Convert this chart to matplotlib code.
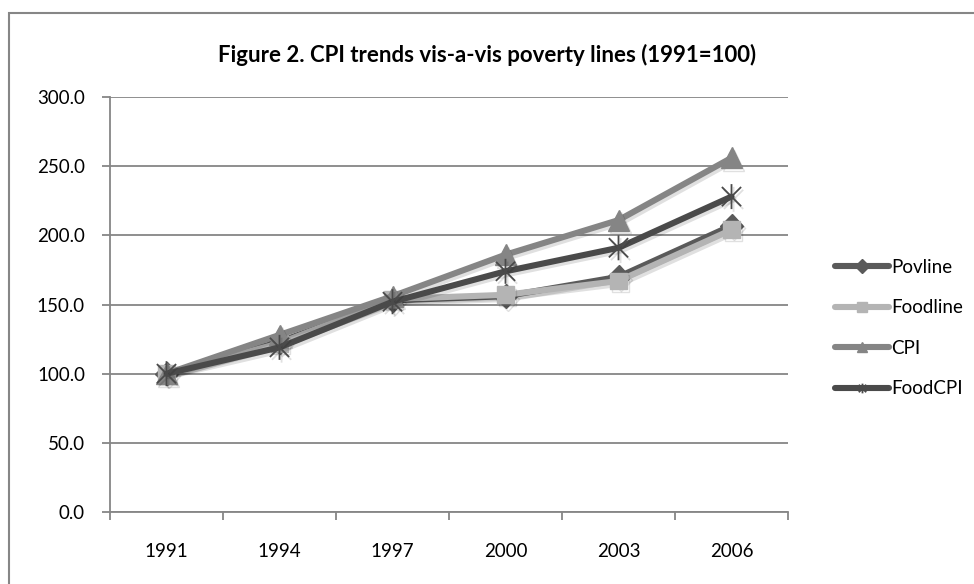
import matplotlib
matplotlib.use('Agg')
import matplotlib.pyplot as plt
import matplotlib.patheffects as pe
from matplotlib.path import Path
from matplotlib.patches import Rectangle

# data
years = ['1991', '1994', '1997', '2000', '2003', '2006']
povline = [100.0, 123.0, 153.0, 156.0, 170.0, 207.0]
foodline = [100.0, 122.0, 154.0, 157.0, 167.0, 204.0]
cpi = [100.0, 128.0, 156.0, 186.0, 211.0, 256.0]
foodcpi = [100.0, 119.0, 152.0, 174.0, 191.0, 228.0]
yticks = [0, 50, 100, 150, 200, 250, 300]

plt.rcParams['font.family'] = ['Lato', 'DejaVu Sans']

# Excel style star marker: x plus a vertical bar
star = Path([(-1, -1), (1, 1), (-1, 1), (1, -1), (0, -1.3), (0, 1.3)],
            [Path.MOVETO, Path.LINETO, Path.MOVETO, Path.LINETO, Path.MOVETO, Path.LINETO])

fig = plt.figure(figsize=(9.74, 5.84), dpi=100)
fig.patches.append(Rectangle((9 / 974, -0.1), 1.2, (584 - 13) / 584 + 0.1,
                             transform=fig.transFigure, fill=False,
                             edgecolor='#868686', linewidth=1.5))
ax = fig.add_axes([110 / 974, 72 / 584, 678 / 974, 415 / 584])

x = list(range(len(years)))
shadow = [pe.SimpleLineShadow(offset=(1.5, -2), shadow_color='#000000', alpha=0.12), pe.Normal()]

series = [
    ('Povline', povline, '#5a5a5a', 'D', 12, {}),
    ('Foodline', foodline, '#b4b4b4', 's', 12, {}),
    ('CPI', cpi, '#858585', '^', 15, {}),
    ('FoodCPI', foodcpi, '#4a4a4a', star, 18, {'markerfacecolor': 'none', 'markeredgewidth': 1.3}),
]
for name, vals, col, mk, ms, extra in series:
    ax.plot(x, vals, color=col, linewidth=4.4, marker=mk, markersize=ms,
            markerfacecolor=extra.get('markerfacecolor', col), markeredgecolor=col,
            markeredgewidth=extra.get('markeredgewidth', 1), label=name,
            solid_capstyle='round', path_effects=shadow)

ax.set_xlim(-0.5, len(years) - 0.5)
ax.set_ylim(0, 300)
ax.set_yticks(yticks)
ax.set_yticklabels([f'{v:.1f}' for v in yticks])
ax.set_xticks(x)
ax.set_xticklabels(years)
ax.set_xticks([i - 0.5 for i in range(len(years) + 1)], minor=True)
ax.tick_params(axis='x', which='major', length=0, pad=22, labelsize=13.5)
ax.tick_params(axis='x', which='minor', length=6, width=1.3, color='#868686', direction='out')
ax.tick_params(axis='y', length=6, width=1.3, color='#868686', pad=12, labelsize=13.5)
ax.grid(axis='y', color='#868686', linewidth=1.3)
ax.set_axisbelow(True)
for s in ['top', 'right']:
    ax.spines[s].set_visible(False)
for s in ['left', 'bottom']:
    ax.spines[s].set_color('#868686')
    ax.spines[s].set_linewidth(1.3)

fig.text(487 / 974, 1 - 55 / 584, 'Figure 2. CPI trends vis-a-vis poverty lines (1991=100)',
         ha='center', va='center', fontsize=16, fontweight='bold')

leg = ax.legend(loc='center left', bbox_to_anchor=(818 / 974, 1 - 328 / 584),
                bbox_transform=fig.transFigure, frameon=False, fontsize=13.5,
                handlelength=2.9, handletextpad=0.1, labelspacing=1.25)
for h in leg.legend_handles:
    h.set_markersize(7)
    h.set_path_effects([])

fig.savefig('out.png', dpi=100)
